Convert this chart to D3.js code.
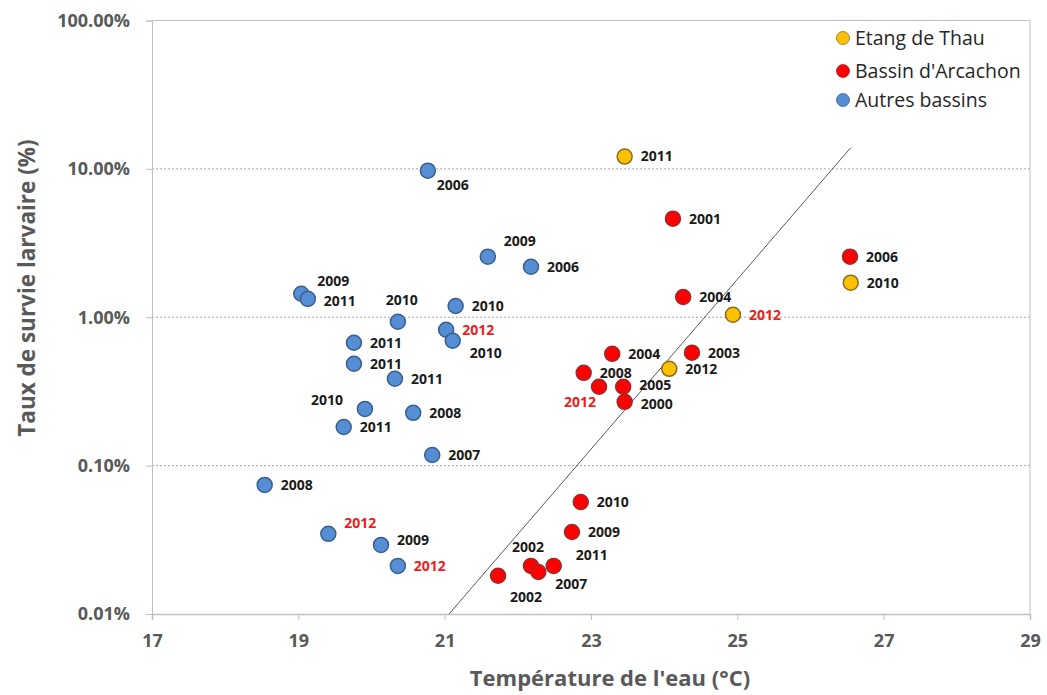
<!DOCTYPE html>
<html>
<head>
<meta charset="utf-8">
<script src="https://cdn.jsdelivr.net/npm/d3@7"></script>
<style>
  html, body { margin: 0; padding: 0; background: #fff; }
  svg { display: block; }
</style>
</head>
<body>
<svg id="chart" width="1047" height="695"></svg>
<script>
// ---------- data ----------
const seriesNames = ["Etang de Thau", "Bassin d'Arcachon", "Autres bassins"];

const thauTemp  = [23.46, 24.94, 24.07, 26.55];
const thauSurv  = [12.1, 1.04, 0.449, 1.71];
const thauYear  = ["2011", "2012", "2012", "2010"];
const thauHi    = [false, true, false, false];
const thauPlace = ["r", "r", "r", "r"];

const arcTemp  = [24.12, 24.26, 26.54, 23.29, 24.38, 22.90, 23.11, 23.44, 23.46, 22.86, 22.74, 22.49, 22.18, 22.28, 21.73];
const arcSurv  = [4.62, 1.37, 2.56, 0.567, 0.577, 0.422, 0.340, 0.340, 0.269, 0.0569, 0.0357, 0.0211, 0.0211, 0.0192, 0.0181];
const arcYear  = ["2001", "2004", "2006", "2004", "2003", "2008", "2012", "2005", "2000", "2010", "2009", "2011", "2002", "2007", "2002"];
const arcHi    = [false, false, false, false, false, false, true, false, false, false, false, false, false, false, false];
const arcPlace = ["r", "r", "r", "r", "r", "r", "bl", "rup", "rdn", "r", "r", "arw", "am", "br", "bm"];

const autTemp  = [20.77, 21.59, 22.18, 19.04, 19.13, 21.15, 20.36, 21.02, 21.11, 19.76, 19.76, 20.32, 19.91, 20.57, 19.62, 20.83, 18.54, 19.41, 20.13, 20.36];
const autSurv  = [9.73, 2.56, 2.19, 1.44, 1.33, 1.19, 0.932, 0.824, 0.694, 0.673, 0.486, 0.385, 0.241, 0.227, 0.182, 0.118, 0.0741, 0.0347, 0.0292, 0.0211];
const autYear  = ["2006", "2009", "2006", "2009", "2011", "2010", "2010", "2012", "2010", "2011", "2011", "2011", "2010", "2008", "2011", "2007", "2008", "2012", "2009", "2012"];
const autHi    = [false, false, false, false, false, false, false, true, false, false, false, false, false, false, false, false, false, true, false, true];
const autPlace = ["bs", "au", "r", "ar2", "rdn", "r", "a", "r", "br", "r", "r", "r", "al", "r", "r", "r", "r", "ar", "ru", "r"];

// exponential trend line end points (temperature, survival %)
const trendTemp = [21.06, 26.55];
const trendSurv = [0.01, 13.9];

const xTicks = [17, 19, 21, 23, 25, 27, 29];
const yTicks = [0.01, 0.1, 1, 10, 100];
const yTickLabels = ["0.01%", "0.10%", "1.00%", "10.00%", "100.00%"];

const xTitle = "Température de l'eau (°C)";
const yTitle = "Taux de survie larvaire (%)";

// ---------- layout ----------
const W = 1047, H = 695;
const plot = { left: 152, right: 1030, top: 20.5, bottom: 614 };
const FONT = "'Open Sans', 'DejaVu Sans', sans-serif";

const colors = {
  "Etang de Thau":     { fill: "#ffc000", stroke: "#8c6d1f" },
  "Bassin d'Arcachon": { fill: "#ff0000", stroke: "#9b2b2b" },
  "Autres bassins":    { fill: "#558ed5", stroke: "#3a5f8b" }
};

const placements = {
  r:   [16, 0, "start"],
  rup: [16, -2, "start"],
  rdn: [16, 2, "start"],
  ru:  [16, -5, "start"],
  ar:  [16, -11, "start"],
  ar2: [16, -13, "start"],
  au:  [16, -16, "start"],
  arw: [22, -11, "start"],
  br:  [17, 12, "start"],
  bs:  [9, 14, "start"],
  bm:  [12, 21, "start"],
  a:   [4, -22, "middle"],
  am:  [-3, -19, "middle"],
  al:  [-22, -9, "end"],
  bl:  [-3, 15, "end"]
};

const series = [
  { name: seriesNames[0], t: thauTemp, s: thauSurv, y: thauYear, hi: thauHi, p: thauPlace },
  { name: seriesNames[1], t: arcTemp,  s: arcSurv,  y: arcYear,  hi: arcHi,  p: arcPlace },
  { name: seriesNames[2], t: autTemp,  s: autSurv,  y: autYear,  hi: autHi,  p: autPlace }
];

const svg = d3.select("#chart");

const x = d3.scaleLinear().domain([17, 29]).range([plot.left, plot.right]);
const y = d3.scaleLog().domain([0.01, 100]).range([plot.bottom, plot.top]);

// gridlines (dotted)
svg.append("g")
  .selectAll("line")
  .data(yTicks.filter(d => d > 0.01 && d < 100))
  .join("line")
  .attr("x1", plot.left).attr("x2", plot.right)
  .attr("y1", d => y(d)).attr("y2", d => y(d))
  .attr("stroke", "#a6a6a6")
  .attr("stroke-width", 1)
  .attr("stroke-dasharray", "2,2");

// plot border top & right
svg.append("line")
  .attr("x1", plot.left).attr("x2", plot.right)
  .attr("y1", y(100)).attr("y2", y(100))
  .attr("stroke", "#bfbfbf").attr("stroke-width", 1);
svg.append("line")
  .attr("x1", plot.right).attr("x2", plot.right)
  .attr("y1", y(100)).attr("y2", y(0.01))
  .attr("stroke", "#bfbfbf").attr("stroke-width", 1);

// axes
const xAxis = d3.axisBottom(x).tickValues(xTicks).tickFormat(d3.format("d")).tickSize(6).tickPadding(14);
const gx = svg.append("g").attr("transform", `translate(0,${plot.bottom})`).call(xAxis);
gx.select(".domain").attr("stroke", "#bfbfbf").attr("stroke-width", 1.5);
gx.selectAll(".tick line").attr("stroke", "#bfbfbf");
gx.selectAll(".tick text")
  .attr("font-family", FONT).attr("font-size", 18).attr("font-weight", "bold")
  .attr("fill", "#595959");

const yAxis = d3.axisLeft(y).tickValues(yTicks)
  .tickFormat((d, i) => yTickLabels[i]).tickSize(6).tickPadding(16);
const gy = svg.append("g").attr("transform", `translate(${plot.left},0)`).call(yAxis);
gy.select(".domain").attr("stroke", "#bfbfbf").attr("stroke-width", 1);
gy.selectAll(".tick line").attr("stroke", "#bfbfbf");
gy.selectAll(".tick text")
  .attr("font-family", FONT).attr("font-size", 18).attr("font-weight", "bold")
  .attr("fill", "#595959");

// axis titles
svg.append("text")
  .attr("x", 610).attr("y", 686)
  .attr("text-anchor", "middle")
  .attr("font-family", FONT).attr("font-size", 22).attr("font-weight", "bold")
  .attr("fill", "#595959")
  .text(xTitle);

svg.append("text")
  .attr("transform", `translate(35,${288}) rotate(-90)`)
  .attr("text-anchor", "middle")
  .attr("font-family", FONT).attr("font-size", 22.5).attr("font-weight", "bold")
  .attr("fill", "#595959")
  .text(yTitle);

// trend line
svg.append("line")
  .attr("x1", x(trendTemp[0])).attr("y1", y(trendSurv[0]))
  .attr("x2", x(trendTemp[1])).attr("y2", y(trendSurv[1]))
  .attr("stroke", "#595959").attr("stroke-width", 1);

// points
series.forEach(sr => {
  const pts = sr.t.map((t, i) => ({ t, s: sr.s[i], yr: sr.y[i], hi: sr.hi[i], p: sr.p[i] }));
  const g = svg.append("g");
  g.selectAll("circle")
    .data(pts)
    .join("circle")
    .attr("cx", d => x(d.t))
    .attr("cy", d => y(d.s))
    .attr("r", 7.5)
    .attr("fill", colors[sr.name].fill)
    .attr("stroke", colors[sr.name].stroke)
    .attr("stroke-width", 1.5);
  g.selectAll("text")
    .data(pts)
    .join("text")
    .attr("x", d => x(d.t) + placements[d.p][0])
    .attr("y", d => y(d.s) + placements[d.p][1])
    .attr("dy", "0.35em")
    .attr("text-anchor", d => placements[d.p][2])
    .attr("font-family", FONT).attr("font-size", 14).attr("font-weight", "bold")
    .attr("fill", d => d.hi ? "#ee1c1c" : "#1a1a1a")
    .text(d => d.yr);
});

// legend
const legend = svg.append("g");
const legY = [38, 71, 100];
seriesNames.forEach((n, i) => {
  legend.append("circle")
    .attr("cx", 843).attr("cy", legY[i]).attr("r", 6.5)
    .attr("fill", colors[n].fill)
    .attr("stroke", colors[n].stroke).attr("stroke-width", 0.8);
  legend.append("text")
    .attr("x", 855).attr("y", legY[i]).attr("dy", "0.35em")
    .attr("font-family", FONT).attr("font-size", 19.5)
    .attr("fill", "#262626")
    .text(n);
});
</script>
</body>
</html>
